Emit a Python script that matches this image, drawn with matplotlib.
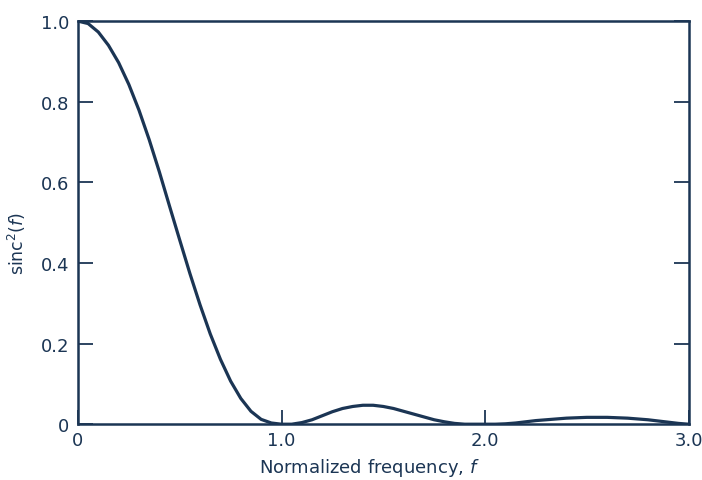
import matplotlib
matplotlib.use("Agg")
import matplotlib.pyplot as plt

# points, every 0.05 in f
freq = [0.0, 0.05, 0.1, 0.15, 0.2, 0.25, 0.3, 0.35, 0.4, 0.45, 0.5,
        0.55, 0.6, 0.65, 0.7, 0.75, 0.8, 0.85, 0.9, 0.95, 1.0,
        1.05, 1.1, 1.15, 1.2, 1.25, 1.3, 1.35, 1.4, 1.45, 1.5,
        1.55, 1.6, 1.65, 1.7, 1.75, 1.8, 1.85, 1.9, 1.95, 2.0,
        2.05, 2.1, 2.15, 2.2, 2.25, 2.3, 2.35, 2.4, 2.45, 2.5,
        2.55, 2.6, 2.65, 2.7, 2.75, 2.8, 2.85, 2.9, 2.95, 3.0]
power = [1.0, 0.994, 0.973, 0.94, 0.897, 0.843, 0.779, 0.706, 0.626, 0.541, 0.457,
         0.374, 0.296, 0.224, 0.161, 0.107, 0.064, 0.032, 0.012, 0.003, 0.0,
         0.0, 0.004, 0.011, 0.021, 0.031, 0.039, 0.044, 0.047, 0.047, 0.044,
         0.039, 0.032, 0.025, 0.018, 0.011, 0.006, 0.002, 0.0, 0.0, 0.0,
         0.0, 0.001, 0.003, 0.006, 0.009, 0.011, 0.013, 0.015, 0.016, 0.017,
         0.017, 0.017, 0.016, 0.015, 0.013, 0.011, 0.008, 0.005, 0.002, 0.0]

ink = '#1b3554'

fig = plt.figure(figsize=(7.02, 4.81), dpi=100)
ax = fig.add_axes([0.111, 0.116, 0.870, 0.838])

ax.plot(freq, power, color=ink, linewidth=2.3, solid_capstyle='round',
        solid_joinstyle='round')

ax.set_xlim(0, 3.0)
ax.set_ylim(0, 1.0)
ax.set_xticks([0, 1.0, 2.0, 3.0])
ax.set_xticklabels(['0', '1.0', '2.0', '3.0'])
ax.set_yticks([0, 0.2, 0.4, 0.6, 0.8, 1.0])
ax.set_yticklabels(['0', '0.2', '0.4', '0.6', '0.8', '1.0'])

ax.tick_params(axis='y', direction='in', length=11, width=1.3, color=ink,
               right=True, labelsize=13, labelcolor=ink, pad=6)
ax.tick_params(axis='x', direction='in', length=10, width=1.3, color=ink,
               labelsize=13, labelcolor=ink, pad=5)

for s in ax.spines.values():
    s.set_color(ink)
    s.set_linewidth(1.8)

ax.set_xlabel('Normalized frequency, $\\it{f}$', fontsize=13, color=ink)
ax.xaxis.set_label_coords(0.477, -0.08)
ax.set_ylabel('sinc$^2$($\\it{f}$)', fontsize=12.5, color=ink)
ax.yaxis.set_label_coords(-0.082, 0.45)

fig.savefig('out.png', dpi=100)
